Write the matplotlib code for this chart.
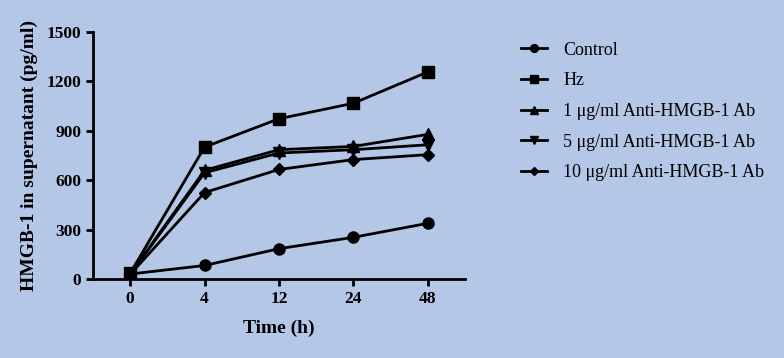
import numpy as np
import matplotlib.pyplot as plt

plt.rcParams['font.family'] = ['Liberation Serif', 'DejaVu Serif']

time_labels = ['0', '4', '12', '24', '48']
series_names = ['Control', 'Hz', '1 μg/ml Anti-HMGB-1 Ab',
                '5 μg/ml Anti-HMGB-1 Ab', '10 μg/ml Anti-HMGB-1 Ab']
control = [30, 82, 184, 253, 338]
hz = [35, 801, 973, 1067, 1257]
anti_1 = [30, 660, 785, 805, 878]
anti_5 = [28, 645, 765, 785, 815]
anti_10 = [28, 525, 665, 725, 755]
markers = ['o', 's', '^', 'v', 'D']

bg = '#b4c7e7'
fig = plt.figure(figsize=(7.84, 3.58), dpi=100, facecolor=bg)
ax = fig.add_axes([0.1186, 0.2207, 0.4744, 0.690], facecolor=bg)

x = np.arange(len(time_labels))
sizes = [8, 8, 8, 8, 6]
for ys, name, m, ms in zip([control, hz, anti_1, anti_5, anti_10], series_names, markers, sizes):
    ax.plot(x, ys, color='black', lw=2, marker=m, ms=ms, label=name)

ax.set_xlim(-0.5, 4.5)
ax.set_ylim(0, 1500)
ax.set_xticks(x)
ax.set_xticklabels(time_labels)
ax.set_yticks(np.arange(0, 1501, 300))
for s in ['top', 'right']:
    ax.spines[s].set_visible(False)
for s in ['left', 'bottom']:
    ax.spines[s].set_linewidth(2)
ax.tick_params(width=2, length=5, labelsize=12.5)
for lab in ax.get_xticklabels() + ax.get_yticklabels():
    lab.set_fontweight('bold')
ax.set_xlabel('Time (h)', fontsize=14, fontweight='bold', labelpad=9)
ax.set_ylabel('HMGB-1 in supernatant (pg/ml)', fontsize=14, fontweight='bold', labelpad=6)

ax.legend(loc='upper left', bbox_to_anchor=(0.6645, 0.884), bbox_transform=fig.transFigure,
          frameon=False, fontsize=13, handlelength=1.45, labelspacing=0.76,
          handletextpad=0.9, borderpad=0, borderaxespad=0, markerscale=0.7)

fig.savefig('out.png', dpi=100, facecolor=bg)
